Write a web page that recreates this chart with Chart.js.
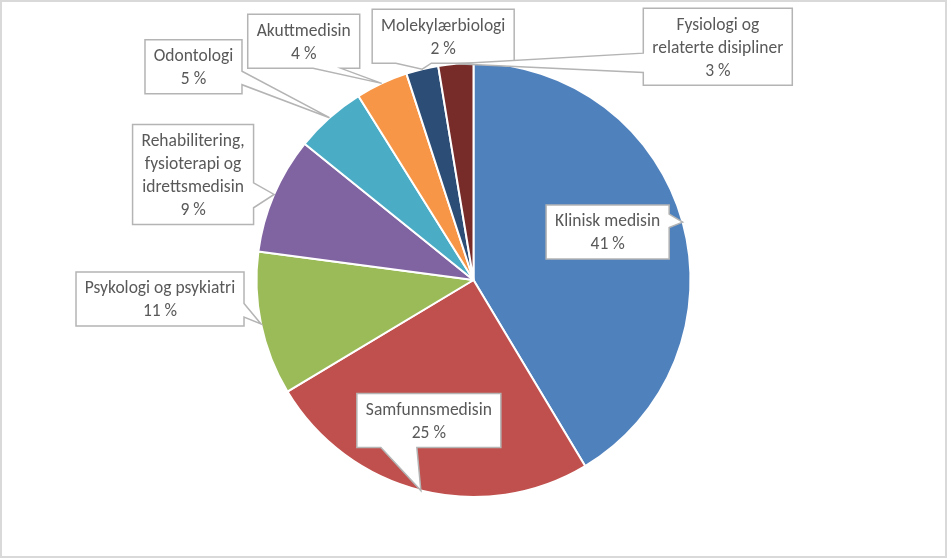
<!DOCTYPE html>
<html>
<head>
<meta charset="utf-8">
<script src="https://cdn.jsdelivr.net/npm/chart.js@4/dist/chart.umd.min.js"></script>
<style>
  html, body { margin: 0; padding: 0; background: #ffffff; }
  #wrap { width: 947px; height: 558px; position: relative; }
</style>
</head>
<body>
<div id="wrap"><canvas id="c" width="947" height="558"></canvas></div>
<script>
// ---- data ----
const categories = [
  ["Klinisk medisin"],
  ["Samfunnsmedisin"],
  ["Psykologi og psykiatri"],
  ["Rehabilitering,", "fysioterapi og", "idrettsmedisin"],
  ["Odontologi"],
  ["Akuttmedisin"],
  ["Molekylærbiologi"],
  ["Fysiologi og", "relaterte disipliner"]
];
const shares = [41.4, 25.0, 10.7, 8.7, 5.3, 3.9, 2.4, 2.6];

// ---- style ----
const sliceColors = ["#4F81BD", "#C0504D", "#9BBB59", "#8064A2", "#4BACC6", "#F79646", "#2C4D75", "#772C2A"];
// callout box centre, offset from the pointer tip (px)
const calloutOffsets = [[-75, 10], [8, -70], [-101, -25], [-81, -20], [-136, -51], [-78, -42], [21, -33], [262, -17]];
const FONT = '17.5px Carlito, Lato, sans-serif';
const LINE_H = 23;
const PAD_X = 9;

const calloutPlugin = {
  id: 'callouts',
  beforeDraw(chart) {
    const ctx = chart.ctx;
    ctx.save();
    ctx.fillStyle = '#ffffff';
    ctx.fillRect(0, 0, chart.width, chart.height);
    ctx.restore();
  },
  afterDraw(chart) {
    const ctx = chart.ctx;
    const meta = chart.getDatasetMeta(0);
    const data = chart.data.datasets[0].data;
    const total = data.reduce((a, b) => a + b, 0);
    ctx.save();
    ctx.font = FONT;
    meta.data.forEach((arc, i) => {
      const p = arc.getProps(['x', 'y', 'startAngle', 'endAngle', 'outerRadius'], true);
      const mid = (p.startAngle + p.endAngle) / 2;
      const tx = p.x + Math.cos(mid) * p.outerRadius;
      const ty = p.y + Math.sin(mid) * p.outerRadius;
      const lines = chart.data.labels[i].slice();
      lines.push(Math.round(data[i] / total * 100) + ' %');
      let tw = 0;
      lines.forEach(l => { tw = Math.max(tw, ctx.measureText(l).width); });
      const w = Math.round(tw + 2 * PAD_X);
      const h = lines.length * LINE_H + 8;
      const cx = tx + calloutOffsets[i][0];
      const cy = ty + calloutOffsets[i][1];
      const L = cx - w / 2, T = cy - h / 2, R = cx + w / 2, B = cy + h / 2;
      const dx = tx - cx, dy = ty - cy;
      const nx = dx / (w / 2), ny = dy / (h / 2);
      const inside = Math.abs(nx) <= 1 && Math.abs(ny) <= 1;
      const pts = [];
      let side = null;
      if (!inside) side = Math.abs(nx) > Math.abs(ny) ? (nx > 0 ? 'R' : 'L') : (ny > 0 ? 'B' : 'T');
      const fr = (len, low) => low ? [len / 6, len * 5 / 12] : [len * 7 / 12, len * 5 / 6];
      pts.push([L, T]);
      if (side === 'T') { const f = fr(w, dx < 0); pts.push([L + f[0], T], [tx, ty], [L + f[1], T]); }
      pts.push([R, T]);
      if (side === 'R') { const f = fr(h, dy < 0); pts.push([R, T + f[0]], [tx, ty], [R, T + f[1]]); }
      pts.push([R, B]);
      if (side === 'B') { const f = fr(w, dx < 0); pts.push([L + f[1], B], [tx, ty], [L + f[0], B]); }
      pts.push([L, B]);
      if (side === 'L') { const f = fr(h, dy < 0); pts.push([L, T + f[1]], [tx, ty], [L, T + f[0]]); }
      ctx.beginPath();
      pts.forEach((pt, k) => k ? ctx.lineTo(pt[0], pt[1]) : ctx.moveTo(pt[0], pt[1]));
      ctx.closePath();
      ctx.fillStyle = '#ffffff';
      ctx.fill();
      ctx.lineWidth = 1.5;
      ctx.strokeStyle = '#b4b4b4';
      ctx.lineJoin = 'miter';
      ctx.stroke();
      ctx.fillStyle = '#595959';
      ctx.textAlign = 'center';
      ctx.textBaseline = 'middle';
      lines.forEach((l, k) => {
        ctx.fillText(l, cx, T + 4 + LINE_H / 2 + 1.5 + k * LINE_H);
      });
    });
    ctx.lineWidth = 2;
    ctx.strokeStyle = '#d9d9d9';
    ctx.strokeRect(1, 1, chart.width - 2, chart.height - 2);
    ctx.restore();
  }
};

new Chart(document.getElementById('c'), {
  type: 'pie',
  data: {
    labels: categories,
    datasets: [{
      data: shares,
      backgroundColor: sliceColors,
      borderColor: '#ffffff',
      borderWidth: 2
    }]
  },
  options: {
    responsive: false,
    animation: false,
    layout: { padding: { top: 62, bottom: 60, left: 0, right: 0 } },
    plugins: { legend: { display: false }, tooltip: { enabled: false } }
  },
  plugins: [calloutPlugin]
});
</script>
</body>
</html>
